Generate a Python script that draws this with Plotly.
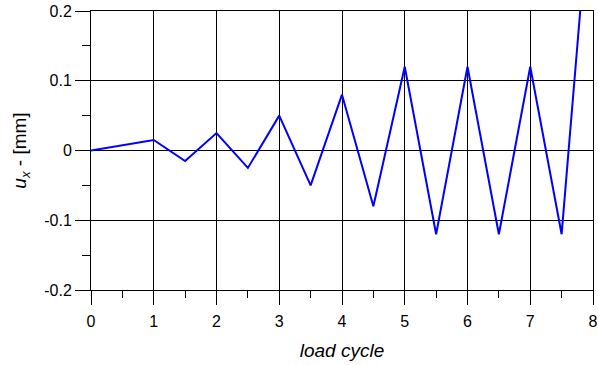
import plotly.graph_objects as go

cycle = [0, 1, 1.5, 2, 2.5, 3, 3.5, 4, 4.5, 5, 5.5, 6, 6.5, 7, 7.5, 8]
ux = [0, 0.015, -0.015, 0.025, -0.025, 0.05, -0.05, 0.08, -0.08, 0.12, -0.12, 0.12, -0.12, 0.12, -0.12, 0.42]

x_ticks = [0, 1, 2, 3, 4, 5, 6, 7, 8]
y_ticks = [-0.2, -0.1, 0, 0.1, 0.2]
y_labels = ["-0.2", "-0.1", "0", "0.1", "0.2"]

fig = go.Figure()
fig.add_trace(go.Scatter(x=cycle, y=ux, mode="lines",
                         line=dict(color="#0000ff", width=2), showlegend=False))

tickfont = dict(family="Liberation Sans, Arial, sans-serif", size=16, color="black")
titlefont = dict(family="Liberation Sans, Arial, sans-serif", size=19, color="black")

fig.update_layout(
    width=598, height=365,
    margin=dict(l=91, r=5, t=11, b=75),
    plot_bgcolor="white", paper_bgcolor="white",
    font=tickfont,
    xaxis=dict(
        range=[0, 8], tickvals=x_ticks, ticks="outside", ticklen=14, tickwidth=1,
        tickcolor="black", showline=True, linecolor="black", linewidth=1, mirror=True,
        showgrid=True, gridcolor="black", gridwidth=1, zeroline=False, automargin=False,
        ticklabelstandoff=3,
        minor=dict(dtick=0.5, tick0=0, ticks="outside", ticklen=7, tickcolor="black",
                   tickwidth=1, showgrid=False),
        title=dict(text="<i>load cycle</i>", font=titlefont, standoff=14),
        tickfont=tickfont,
    ),
    yaxis=dict(
        range=[-0.2, 0.2], tickvals=y_ticks, ticktext=y_labels, ticks="outside",
        ticklen=15, tickwidth=1, tickcolor="black", showline=True, linecolor="black",
        linewidth=1, mirror=True, showgrid=True, gridcolor="black", gridwidth=1,
        zeroline=True, zerolinecolor="black", zerolinewidth=1, automargin=False,
        minor=dict(dtick=0.05, tick0=0, ticks="outside", ticklen=8, tickcolor="black",
                   tickwidth=1, showgrid=False),
        title=dict(text="<i>u<sub>x</sub></i> - [mm]", font=titlefont, standoff=12),
        tickfont=tickfont,
    ),
)

fig.write_html("out.html")
